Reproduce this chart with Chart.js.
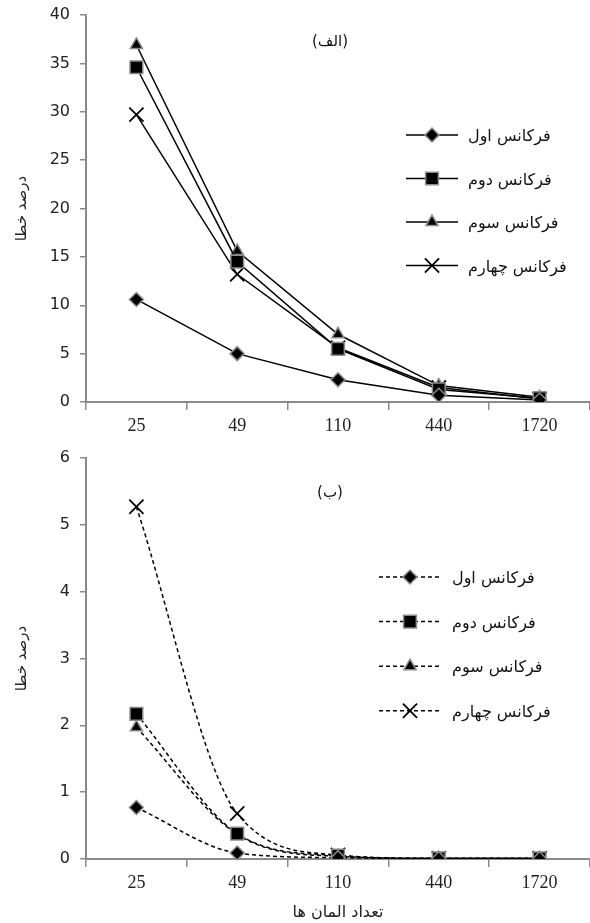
<!DOCTYPE html>
<html>
<head>
<meta charset="utf-8">
<script src="https://cdn.jsdelivr.net/npm/chart.js@4"></script>
<style>
html, body { margin: 0; padding: 0; background: #fff; overflow: hidden; }
#top { position: absolute; left: 0; top: 0; width: 590px; height: 445px; }
#bottom { position: absolute; left: 0; top: 445px; width: 590px; height: 478px; }
canvas { display: block; }
</style>
</head>
<body>
<div id="top"><canvas id="chartA"></canvas></div>
<div id="bottom"><canvas id="chartB"></canvas></div>
<script>
const elements = ['25', '49', '110', '440', '1720'];
const seriesNames = ['فرکانس اول', 'فرکانس دوم', 'فرکانس سوم', 'فرکانس چهارم'];

// (الف)
const errA1 = [10.6, 5.0, 2.3, 0.7, 0.2];
const errA2 = [34.6, 14.5, 5.5, 1.3, 0.4];
const errA3 = [36.9, 15.6, 7.0, 1.7, 0.5];
const errA4 = [29.7, 13.2, 5.6, 1.5, 0.3];

// (ب)
const errB1 = [0.77, 0.09, 0.02, 0.005, 0.003];
const errB2 = [2.17, 0.38, 0.05, 0.01, 0.01];
const errB3 = [1.97, 0.37, 0.04, 0.01, 0.01];
const errB4 = [5.27, 0.68, 0.06, 0.01, 0.01];

const markers = ['rectRot', 'rect', 'triangle', 'crossRot'];
const markerSize = [7, 9, 7, 10];
const axisGray = '#8a8a8a';

function makeDatasets(series, dashed) {
    return series.map((v, i) => ({
        label: seriesNames[i],
        data: v,
        borderColor: '#000',
        borderWidth: 1.5,
        borderDash: dashed ? [4, 3] : [],
        pointStyle: markers[i],
        pointRadius: markerSize[i],
        pointBackgroundColor: '#000',
        pointBorderColor: i === 3 ? '#000' : axisGray,
        pointBorderWidth: i === 3 ? 1.8 : 1.5,
        tension: dashed ? 0.4 : 0,
        cubicInterpolationMode: dashed ? 'monotone' : 'default'
    }));
}

// legend drawn inside the plot: line + marker, then the name
const lineLegend = {
    id: 'lineLegend',
    afterDatasetsDraw(chart, args, opts) {
        const ctx = chart.ctx;
        ctx.save();
        chart.data.datasets.forEach((ds, i) => {
            const y = opts.y + i * opts.gap;
            ctx.strokeStyle = '#000';
            ctx.lineWidth = ds.borderWidth;
            ctx.setLineDash(ds.borderDash);
            ctx.beginPath();
            ctx.moveTo(opts.x - opts.half, y);
            ctx.lineTo(opts.x + opts.half, y);
            ctx.stroke();
            ctx.setLineDash([]);
            ctx.fillStyle = ds.pointBackgroundColor;
            ctx.strokeStyle = ds.pointBorderColor;
            ctx.lineWidth = ds.pointBorderWidth;
            Chart.helpers.drawPoint(ctx, {
                pointStyle: ds.pointStyle, radius: ds.pointRadius,
                rotation: 0, borderWidth: ds.pointBorderWidth
            }, opts.x, y);

            ctx.fillStyle = '#111';
            ctx.font = '16px "DejaVu Sans"';
            ctx.direction = 'rtl';
            ctx.textAlign = 'left';
            ctx.textBaseline = 'middle';
            ctx.fillText(ds.label, opts.textX, y + 2);
        });
        ctx.font = '15px "DejaVu Sans"';
        ctx.direction = 'rtl';
        ctx.textAlign = 'center';
        ctx.fillStyle = '#111';
        ctx.fillText(opts.tag, opts.tagX, opts.tagY);
        ctx.restore();
    }
};

function makeChart(id, series, dashed, yMax, yStep, padTop, xHeight, showXTitle, legendOpts) {
    return new Chart(document.getElementById(id), {
        type: 'line',
        data: { labels: elements, datasets: makeDatasets(series, dashed) },
        plugins: [lineLegend],
        options: {
            maintainAspectRatio: false,
            animation: false,
            layout: { autoPadding: false, padding: { top: padTop, left: 0, right: 0, bottom: 0 } },
            plugins: {
                legend: { display: false },
                tooltip: { enabled: false },
                lineLegend: legendOpts
            },
            scales: {
                x: {
                    offset: true,
                    grid: { offset: true, drawOnChartArea: false, color: axisGray, tickLength: 8, lineWidth: 1.5 },
                    border: { color: axisGray, width: 2 },
                    ticks: { color: '#222', padding: 5, font: { family: '"Liberation Serif"', size: 18 } },
                    title: {
                        display: showXTitle, text: 'تعداد المان ها', color: '#222',
                        font: { family: '"DejaVu Sans"', size: 16 }, padding: { top: 0, bottom: 1 }
                    },
                    afterFit(scale) {
                        scale.height = xHeight;
                        scale.paddingLeft = 0;
                        scale.paddingRight = 0;
                    }
                },
                y: {
                    min: 0, max: yMax,
                    grid: { drawOnChartArea: false, color: axisGray, tickLength: 6, lineWidth: 1.5 },
                    border: { color: axisGray, width: 2 },
                    ticks: { stepSize: yStep, color: '#222', padding: 10, font: { family: '"DejaVu Sans"', size: 16 } },
                    title: {
                        display: true, text: 'درصد خطا', color: '#222',
                        font: { family: '"DejaVu Sans"', size: 15 }, padding: { top: 13, bottom: 0 }
                    },
                    afterFit(scale) {
                        scale.width = 86;
                        scale.paddingTop = 0;
                        scale.paddingBottom = 0;
                    }
                }
            }
        }
    });
}

makeChart('chartA', [errA1, errA2, errA3, errA4], false, 40, 5, 15, 43, false,
    { x: 432, half: 26, y: 135, gap: 43.5, textX: 468, tag: '(الف)', tagX: 330, tagY: 42 });
makeChart('chartB', [errB1, errB2, errB3, errB4], true, 6, 1, 13, 64, true,
    { x: 410, half: 31, y: 132, gap: 44.6, textX: 452, tag: '(ب)', tagX: 330, tagY: 48 });
</script>
</body>
</html>
